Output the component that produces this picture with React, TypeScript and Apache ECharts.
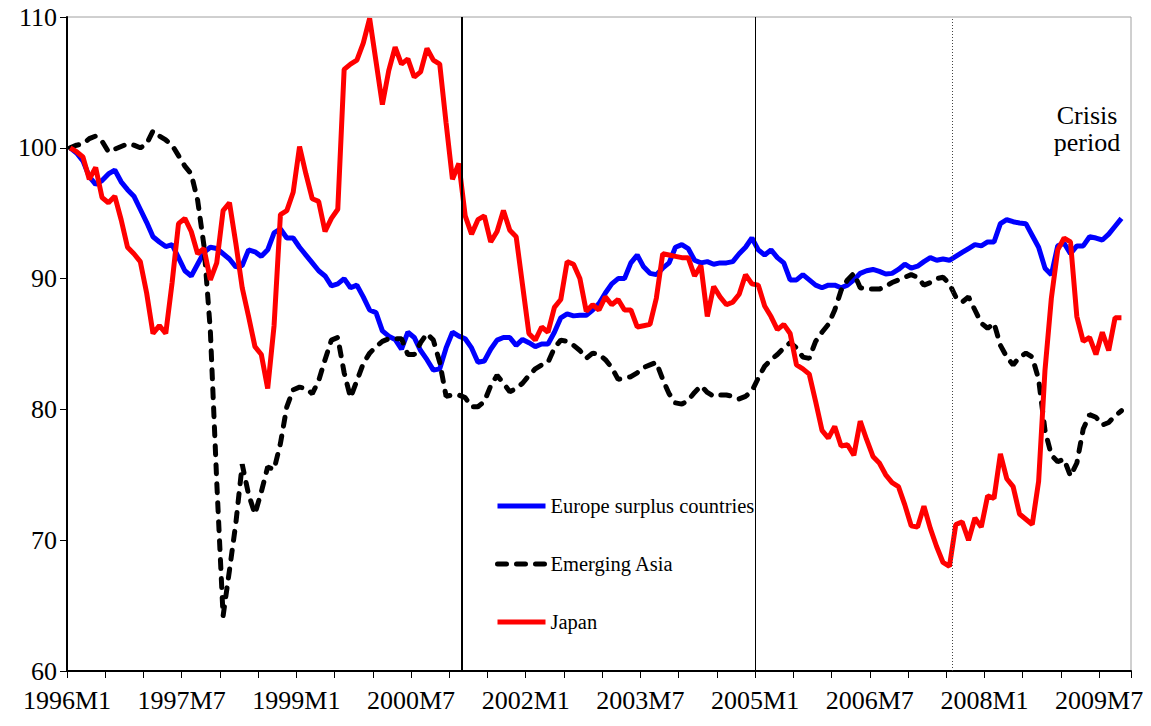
import React, { useEffect, useRef } from "react";
import * as echarts from "echarts";

// Monthly categories 1996M1 .. 2009M11 (axis span); data run to 2009M10
const startYear = 1996;
const monthCount = 167;
const months: string[] = [];
for (let i = 0; i < monthCount; i++) {
  months.push(`${startYear + Math.floor(i / 12)}M${(i % 12) + 1}`);
}

const tickLabels = ["1996M1", "1997M7", "1999M1", "2000M7", "2002M1", "2003M7", "2005M1", "2006M7", "2008M1", "2009M7"];
const yTicks = [60, 70, 80, 90, 100, 110];

const europe = [
  100, 99.6, 99.0, 97.8, 97.2, 97.5, 98.0, 98.3, 97.4, 96.8, 96.3, 95.3, 94.3, 93.2, 92.8, 92.45, 92.6, 91.6, 90.6, 90.2,
  91.1, 92.0, 92.4, 92.3, 91.9, 91.5, 90.9, 91.0, 92.2, 92.05, 91.7, 92.2, 93.5, 93.8, 93.1, 93.1, 92.4, 91.8, 91.2, 90.6,
  90.2, 89.45, 89.6, 90.0, 89.3, 89.5, 88.6, 87.6, 87.4, 86.0, 85.6, 85.35, 84.6, 85.9, 85.5, 84.5, 83.8, 83.0, 83.1, 84.7,
  85.9, 85.6, 85.4, 84.7, 83.6, 83.7, 84.6, 85.3, 85.5, 85.5, 84.9, 85.35, 85.1, 84.8, 85.0, 85.0, 85.9, 87.0, 87.3, 87.15,
  87.2, 87.2, 87.6, 88.1, 88.9, 89.6, 90.0, 90.0, 91.2, 91.8, 90.9, 90.4, 90.3, 90.8, 91.2, 92.4, 92.6, 92.3, 91.4, 91.2,
  91.3, 91.1, 91.2, 91.2, 91.3, 91.9, 92.4, 93.1, 92.2, 91.8, 92.2, 91.6, 91.2, 89.9, 89.9, 90.3, 89.9, 89.5, 89.3, 89.5,
  89.5, 89.3, 89.5, 89.9, 90.4, 90.6, 90.7, 90.55, 90.35, 90.4, 90.7, 91.1, 90.8, 90.95, 91.3, 91.6, 91.4, 91.5, 91.4, 91.7,
  92.0, 92.3, 92.6, 92.5, 92.8, 92.8, 94.2, 94.5, 94.35, 94.25, 94.2, 93.3, 92.4, 90.8, 90.3, 92.5, 92.7, 91.9, 92.5, 92.5,
  93.2, 93.1, 92.95, 93.4, 94.0, 94.6,
];

const asia = [
  100, 100.2, 100.3, 100.7, 100.9, 100.5, 99.7, 99.9, 100.1, 100.3, 100.2, 100.0, 100.3, 101.3, 100.9, 100.6, 100.2, 99.4, 98.6, 98.0,
  96.0, 92.5, 86.0, 74.5, 64.2, 67.7, 71.3, 75.8, 73.5, 72.0, 73.7, 75.6, 75.4, 77.4, 80.2, 81.5, 81.7, 81.6, 81.2, 82.2,
  83.8, 85.3, 85.5, 82.8, 80.9, 82.2, 83.5, 84.3, 84.8, 85.2, 85.4, 85.4, 85.4, 84.2, 84.2, 85.1, 85.8, 85.3, 83.6, 81.0,
  81.1, 81.1, 80.9, 80.2, 80.2, 80.6, 81.8, 82.6, 82.0, 81.35, 81.6, 82.0, 82.6, 83.1, 83.4, 83.6, 84.7, 85.3, 85.2, 84.9,
  84.5, 83.9, 84.3, 84.2, 83.8, 83.2, 82.3, 82.4, 82.5, 82.8, 83.2, 83.4, 83.6, 82.3, 81.2, 80.5, 80.4, 80.7, 81.3, 81.8,
  81.3, 81.0, 81.1, 81.1, 81.0, 80.8, 81.0, 81.4, 82.4, 83.3, 83.8, 84.2, 84.7, 85.1, 84.7, 84.0, 83.9, 85.2, 85.9, 86.5,
  87.6, 89.1, 89.9, 90.4, 89.3, 89.2, 89.2, 89.2, 89.4, 89.7, 89.9, 90.1, 90.3, 90.1, 89.5, 89.7, 90.0, 90.1, 89.6, 88.6,
  88.2, 88.6, 87.6, 86.6, 86.2, 86.6, 84.9, 84.0, 83.4, 84.0, 84.3, 84.0, 82.3, 78.4, 76.5, 76.0, 76.2, 74.9, 75.9, 78.5,
  79.6, 79.4, 78.8, 79.0, 79.5, 79.9,
];

const japan = [
  100, 99.7, 99.3, 97.6, 98.5, 96.2, 95.8, 96.3, 94.5, 92.4, 91.9, 91.3, 88.9, 85.8, 86.4, 85.8, 89.7, 94.2, 94.6, 93.6,
  91.9, 92.3, 89.9, 91.2, 95.2, 95.8, 92.7, 89.3, 87.1, 84.8, 84.2, 81.6, 86.4, 94.9, 95.2, 96.6, 100.1, 98.0, 96.1, 95.9,
  93.6, 94.6, 95.3, 106.0, 106.4, 106.7, 108.0, 109.9, 106.6, 103.3, 105.9, 107.7, 106.4, 106.8, 105.4, 105.8, 107.6, 106.7, 106.4, 101.9,
  97.6, 98.8, 94.8, 93.4, 94.5, 94.8, 92.8, 93.6, 95.2, 93.7, 93.2, 89.5, 85.8, 85.3, 86.3, 85.9, 87.8, 88.4, 91.3, 91.1,
  90.0, 87.5, 88.0, 87.6, 88.6, 88.0, 88.4, 87.6, 87.6, 86.3, 86.4, 86.5, 88.5, 91.9, 91.8, 91.7, 91.6, 91.6, 90.2, 91.0,
  87.1, 89.4, 88.6, 88.0, 88.2, 88.8, 90.3, 89.6, 89.5, 87.9, 87.1, 86.1, 86.5, 85.8, 83.4, 83.1, 82.7, 80.6, 78.4, 77.8,
  78.7, 77.2, 77.3, 76.5, 79.1, 77.7, 76.4, 75.9, 75.0, 74.4, 74.1, 72.7, 71.1, 71.0, 72.6, 70.9, 69.5, 68.3, 68.0, 71.2,
  71.4, 70.0, 71.7, 71.0, 73.4, 73.2, 76.6, 74.7, 74.1, 72.0, 71.6, 71.2, 74.5, 83.0, 88.5, 92.2, 93.1, 92.8, 87.1, 85.2,
  85.5, 84.2, 85.9, 84.5, 87.0, 87.0,
];

// Period markers (month index at the start of the month)
const markerMonths = ["2001M3", "2005M1", "2007M8"];

const serif = "Liberation Serif";

export default function App() {
  const ref = useRef<HTMLDivElement>(null);

  useEffect(() => {
    if (!ref.current) return;
    const chart = echarts.init(ref.current, undefined, { renderer: "svg" });
    const toPts = (arr: number[]) => arr.map((v, i) => [i + 0.5, v]);
    const markerIdx = markerMonths.map((m) => months.indexOf(m));

    chart.setOption({
      animation: false,
      backgroundColor: "#fff",
      grid: {
        left: 67,
        top: 17,
        right: 20,
        bottom: 55,
        show: true,
        borderColor: "#a0a0a0",
        borderWidth: 1,
        backgroundColor: "transparent",
      },
      legend: {
        orient: "vertical",
        left: 490,
        top: 490,
        itemWidth: 48,
        itemHeight: 14,
        itemGap: 36,
        itemStyle: { opacity: 0 },
        lineStyle: { width: 5 },
        textStyle: { fontFamily: serif, fontSize: 20.5, color: "#000", lineHeight: 22 },
        data: ["Europe surplus countries", "Emerging Asia", "Japan"],
      },
      xAxis: {
        type: "value",
        min: 0,
        max: monthCount,
        interval: 6,
        splitLine: { show: false },
        axisLine: { show: true, lineStyle: { color: "#000", width: 2 } },
        axisTick: { show: true, length: 7, lineStyle: { color: "#000", width: 1 } },
        axisLabel: {
          fontFamily: serif,
          fontSize: 26,
          color: "#000",
          margin: 16,
          formatter: (v: number) => (v % 18 === 0 && v / 18 < tickLabels.length ? tickLabels[v / 18] : ""),
        },
      },
      yAxis: {
        type: "value",
        min: yTicks[0],
        max: yTicks[yTicks.length - 1],
        interval: 10,
        splitLine: { show: false },
        axisLine: { show: true, lineStyle: { color: "#000", width: 2 } },
        axisTick: { show: true, length: 7, lineStyle: { color: "#000", width: 1 } },
        axisLabel: { fontFamily: serif, fontSize: 26, color: "#000", margin: 10 },
      },
      graphic: [
        {
          type: "text",
          x: 1087,
          y: 102,
          style: {
            text: "Crisis\nperiod",
            fontFamily: serif,
            fontSize: 26,
            fill: "#000",
            align: "center",
            verticalAlign: "top",
            lineHeight: 27,
          },
        },
      ],
      series: [
        {
          name: "Europe surplus countries",
          type: "line",
          data: toPts(europe),
          symbol: "none",
          lineStyle: { color: "#0000ff", width: 5 },
          itemStyle: { color: "#0000ff" },
          markLine: {
            silent: true,
            symbol: ["none", "none"],
            label: { show: false },
            data: [
              { xAxis: markerIdx[0], lineStyle: { color: "#000", width: 2, type: "solid" } },
              { xAxis: markerIdx[1], lineStyle: { color: "#000", width: 1, type: "solid" } },
              { xAxis: markerIdx[2], lineStyle: { color: "#444", width: 1, type: [1, 2] } },
            ],
          },
        },
        {
          name: "Emerging Asia",
          type: "line",
          data: toPts(asia),
          symbol: "none",
          lineStyle: { color: "#000", width: 5, type: [9, 10], cap: "round" },
          itemStyle: { color: "#000" },
        },
        {
          name: "Japan",
          type: "line",
          data: toPts(japan),
          symbol: "none",
          lineStyle: { color: "#ff0000", width: 5 },
          itemStyle: { color: "#ff0000" },
        },
      ],
    });
    return () => chart.dispose();
  }, []);

  return (
    <div
      ref={ref}
      style={{ position: "absolute", left: 0, top: 0, width: 1151, height: 726, background: "#fff" }}
    />
  );
}
